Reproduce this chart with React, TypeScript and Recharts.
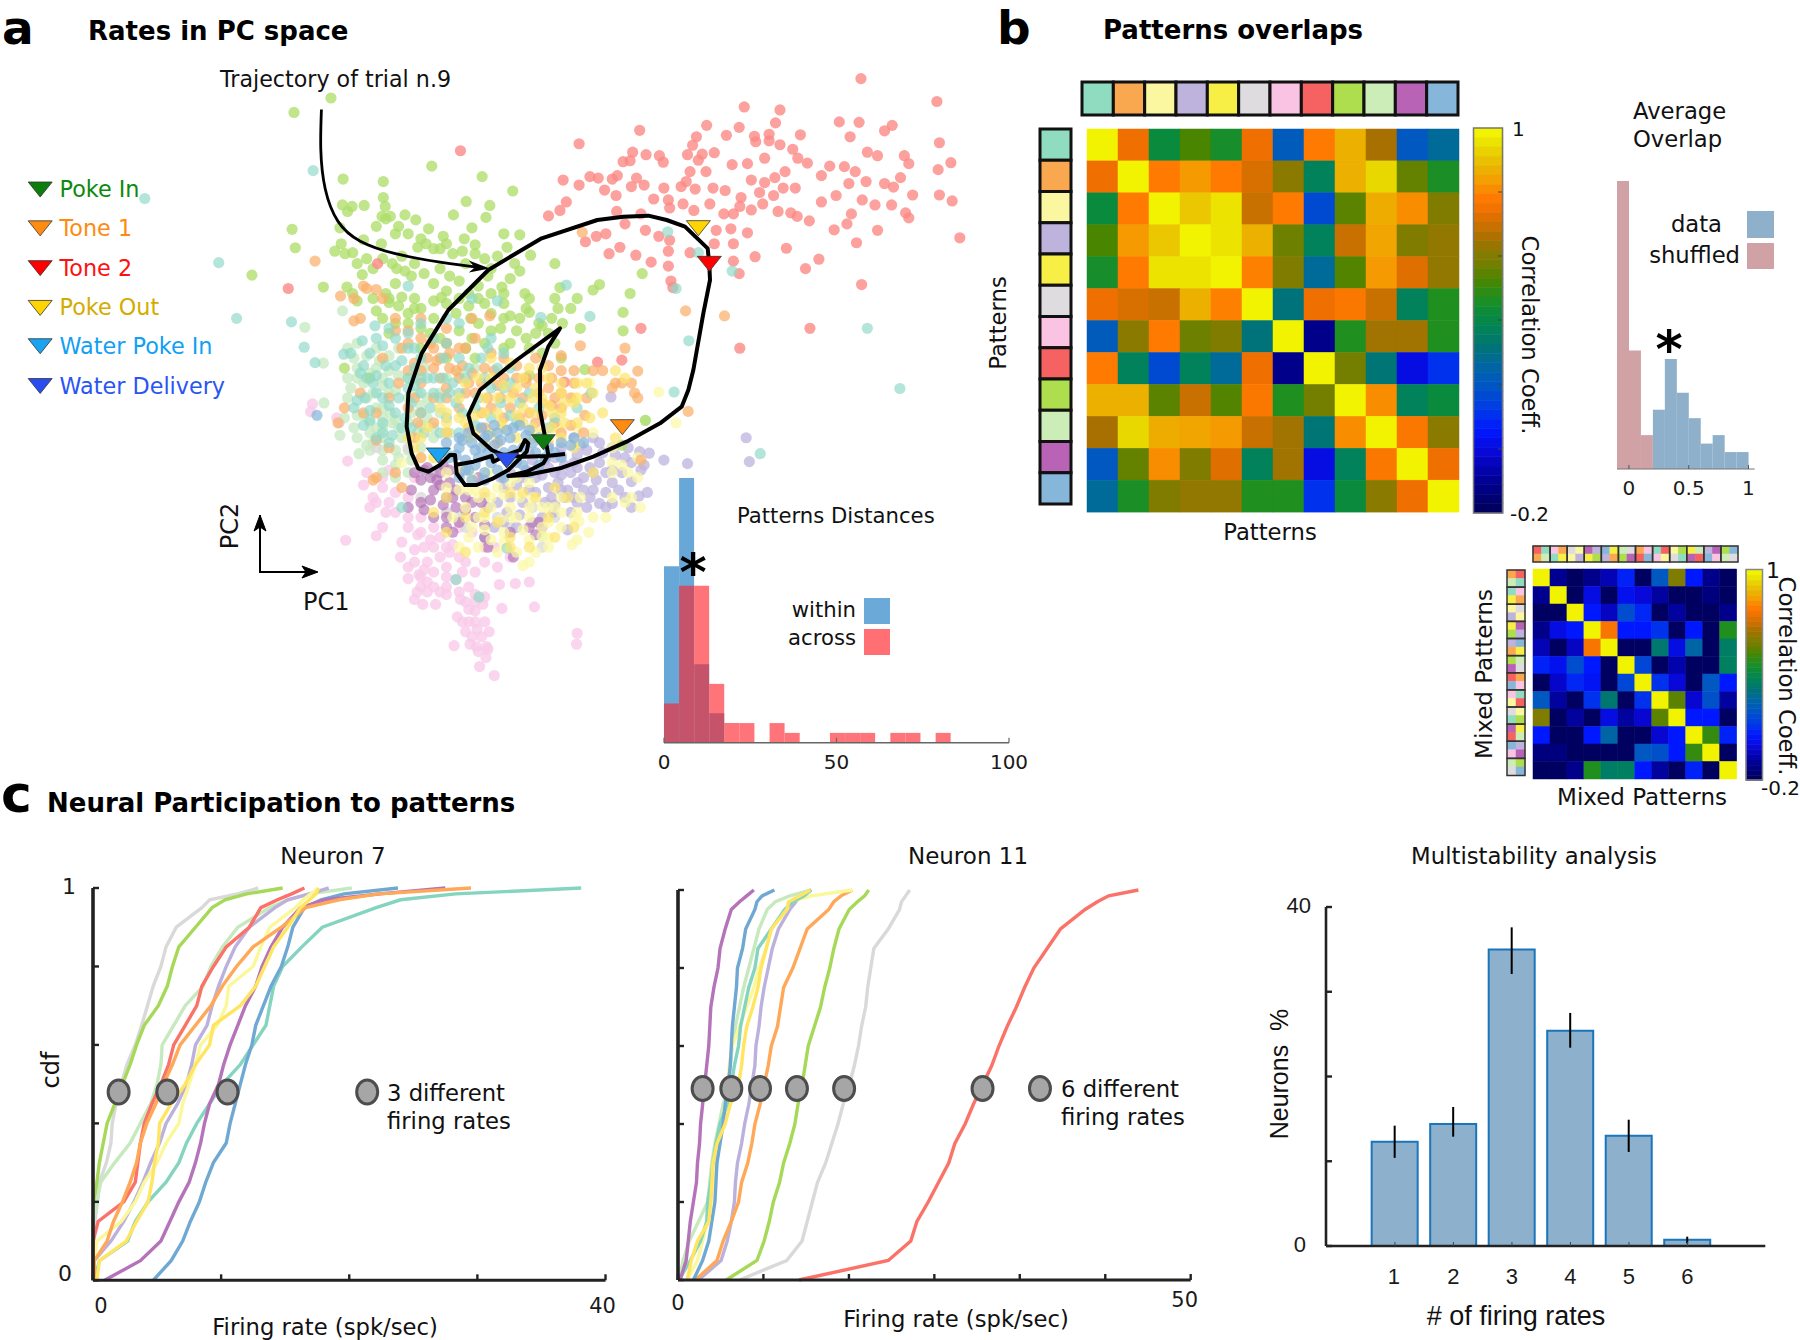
import {
  BarChart,
  Bar,
  ComposedChart,
  ErrorBar,
  Line,
  Scatter,
  ScatterChart,
  XAxis,
  YAxis,
} from 'recharts'

const DEJAVU = '"DejaVu Sans", sans-serif'
const HELV = '"Liberation Sans", sans-serif'

const MINT = '#8fdcc0'
const ORANGE = '#f9a84f'
const LTYELLOW = '#faf7a0'
const LAVENDER = '#bdb3dd'
const YELLOW = '#f7ef45'
const GREY = '#dedcde'
const PINK = '#fac3e3'
const RED = '#f66262'
const GREEN = '#aede4d'
const PALEGREEN = '#ccedb8'
const PURPLE = '#b863b5'
const BLUE = '#86b6da'
const patternColors = [MINT, ORANGE, LTYELLOW, LAVENDER, YELLOW, GREY, PINK, RED, GREEN, PALEGREEN, PURPLE, BLUE]

// PC space dots, units (0..1568 on both axes)
type Pair = [number, number]
const pinkDots: Pair[] = [[905,1273],[904,1295],[712,1298],[775,1358],[762,1322],[752,1340],[747,1300],[763,1300],[737,1295],[767,1270],[748,1265],[735,1250],[760,1250],[717,1240],[745,1228],[787,1223],[838,1220],[663,1215],[683,1215],[650,1205],[722,1205],[700,1195],[735,1180],[654,1190],[640,1163],[657,1155],[680,1150],[715,1165],[745,1195],[783,1175],[808,1173],[830,1170],[628,1120],[650,1105],[590,1077],[542,1086],[670,1130],[665,1100],[690,1080],[730,1130],[710,1095],[605,1030],[585,1000],[600,980],[545,927],[490,812],[487,828],[528,840],[532,850],[580,1020],[640,1060],[660,1040],[680,1060],[700,1030],[740,1070],[760,1100],[720,1060],[575,950],[610,1010],[630,1090],[690,1120],[700,1160],[720,1120],[670,1170],[690,1190],[660,1180],[650,1130],[735,1225],[730,1270],[745,1250],[757,1215],[775,1100],[800,1120],[655,1075],[675,1085],[705,1110],[725,1150],[745,1150],[640,1000],[620,1030],[600,960],[570,975],[610,945],[650,960],[590,1010],[620,990],[640,1040],[660,1070],[600,1060],[680,1100],[700,1100],[660,1160],[680,1180],[700,1180],[720,1190],[730,1210],[745,1210],[760,1200],[725,1250],[740,1280],[755,1280],[750,1310],[765,1305],[640,1140],[670,1190],[665,1145],[700,1140],[760,1130],[780,1140]]
const paleGreenDots: Pair[] = [[537,625],[478,658],[507,730],[508,810],[533,875],[563,912],[600,950],[575,800],[550,780],[590,820],[610,790],[640,850],[670,800],[700,760],[600,880],[620,905],[655,870],[680,880],[730,700],[745,740],[600,760],[590,700],[560,690],[625,700],[670,840],[705,870],[650,760],[612,830],[590,860],[850,1078],[620,960],[1012,845],[580,850],[600,905],[640,905],[625,860],[585,890],[660,815],[640,800],[570,835],[600,840],[690,830],[560,740],[590,740],[610,715],[570,770],[555,860],[580,905],[620,935],[640,950],[660,900],[680,860],[690,790],[720,750],[640,760],[665,740],[620,845],[600,820],[585,790],[545,800],[545,700],[555,720],[575,715],[595,725],[610,745],[625,755],[545,760],[560,760],[580,750],[600,775],[620,785],[540,840],[560,835],[580,870],[600,860],[615,850],[630,880],[645,830],[655,790],[560,880],[575,895],[600,925],[625,920],[645,925],[660,855]]
const greyDots: Pair[] = [[700,1030],[730,1060],[760,1000],[850,1100],[680,950],[720,1040],[590,900],[640,900],[780,1040],[800,1060],[870,1040],[660,1000],[835,1020]]
const lavenderDots: Pair[] = [[1170,880],[1175,928],[1078,932],[1041,925],[1018,911],[1003,908],[985,900],[960,900],[930,880],[958,798],[900,880],[880,900],[1002,997],[990,968],[960,1012],[940,1012],[970,985],[950,950],[925,940],[905,970],[880,985],[860,980],[840,990],[820,1010],[870,950],[900,1000],[930,985],[845,945],[820,960],[790,980],[905,1010],[885,1000],[868,1030],[835,1050],[890,1065],[795,1030],[775,1060],[760,1080],[900,930],[940,930],[980,920],[1005,945],[1010,935],[870,920],[905,915],[960,970],[925,1000],[865,1000],[850,955],[875,970],[895,950],[915,960],[935,965],[855,925],[885,935],[920,905],[945,910],[830,985],[810,975],[855,1010],[890,985],[915,985],[950,990],[835,925],[800,1000],[780,1010],[840,960],[825,945],[860,940],[880,955],[905,940],[930,950],[960,945],[975,950],[980,1000],[950,1020],[920,1020],[895,1030],[870,1015],[850,1040],[815,1035],[790,1050],[810,1060],[880,915],[910,895],[940,890],[965,915],[990,930],[1015,990],[990,1020],[860,895],[830,910],[800,950],[785,960],[765,1020]]
const ltYellowDots: Pair[] = [[923,1070],[908,1048],[897,1095],[880,1060],[850,1078],[820,1065],[790,1070],[760,1040],[730,1020],[780,1110],[840,1110],[830,1130],[820,1137],[870,1020],[905,860],[1033,788],[1060,850],[1004,1020],[990,1000],[960,950],[925,770],[900,800],[850,1020],[800,1020],[770,1000],[740,1060],[720,1100],[750,1100],[815,1000],[750,1000],[875,860],[910,1000],[960,930],[785,1045],[810,1040],[760,1065],[830,1040],[860,1050],[700,980],[735,985],[790,995],[880,1030],[905,1030],[975,935],[1000,920],[780,980],[810,960],[740,960],[700,950],[680,920],[720,945],[750,1040],[790,1090],[860,1080],[880,1000],[835,1000],[860,1100],[810,1110],[770,1085],[735,1080],[710,1040],[660,920],[630,930],[905,890],[930,870],[960,900],[985,950],[980,1010],[1000,960],[905,1085],[930,1040],[960,1000],[950,1040],[850,1060],[830,1085],[800,970],[830,970],[765,950],[745,985],[720,985],[800,1040],[770,1020],[830,1020],[860,1020],[900,1040]]
const mintDots: Pair[] = [[227,399],[491,343],[343,528],[371,640],[457,647],[477,698],[494,729],[539,712],[1047,466],[1095,508],[1148,545],[1060,580],[1080,685],[1360,660],[1411,781],[1192,912],[1057,788],[925,636],[888,573],[848,638],[780,605],[640,575],[588,655],[568,685],[580,710],[600,695],[620,735],[575,760],[572,800],[600,850],[615,875],[590,880],[640,780],[660,830],[680,790],[700,840],[730,760],[750,800],[785,810],[770,680],[720,650],[695,720],[660,720],[640,670],[810,850],[830,790],[690,870],[800,740],[630,1020],[795,1102],[715,1165],[751,1200],[927,790],[860,860],[610,770],[650,740],[670,760],[710,770],[715,810],[760,760],[790,780],[770,840],[745,855],[720,870],[660,790],[620,830],[590,680],[610,660],[570,735],[585,770],[600,800],[640,760],[625,800],[645,810],[675,820],[690,800],[705,790],[725,830],[745,820],[770,780],[800,770],[815,810],[780,740],[755,720],[720,720],[700,690],[680,680],[640,700],[620,680],[590,790],[555,820],[570,855],[600,870],[645,860],[665,870],[700,910],[800,835],[845,820],[870,840],[905,820],[720,790],[660,650],[700,640],[740,600],[550,710],[565,750],[590,755],[605,735],[630,725],[650,700],[560,805],[580,825],[610,815],[635,840],[650,775],[580,845],[610,890],[630,860],[660,760],[680,760],[695,760],[735,740],[765,700],[790,710]]
const greenDots: Pair[] = [[519,197],[461,226],[677,334],[538,360],[756,355],[804,384],[601,365],[601,397],[604,415],[537,412],[552,415],[571,413],[731,405],[768,413],[599,435],[612,435],[635,432],[652,442],[711,432],[762,437],[740,458],[533,458],[458,461],[463,498],[790,470],[815,472],[695,475],[728,480],[620,470],[598,490],[668,490],[680,500],[700,490],[535,490],[525,505],[541,510],[553,508],[570,482],[655,497],[745,492],[795,497],[832,513],[760,520],[807,530],[870,530],[622,540],[635,545],[650,530],[690,540],[730,530],[568,552],[395,553],[507,577],[544,577],[553,590],[610,600],[630,597],[650,600],[692,598],[787,577],[765,555],[823,590],[878,578],[940,572],[930,583],[1007,550],[988,590],[825,620],[870,600],[875,620],[790,610],[800,635],[830,628],[610,608],[660,620],[700,610],[738,640],[750,650],[882,650],[810,665],[840,670],[910,660],[977,628],[977,665],[760,690],[790,700],[830,700],[870,690],[730,700],[700,720],[640,650],[610,670],[917,743],[830,755],[540,740],[580,760],[1012,845],[975,895],[600,640],[660,700],[680,640],[720,600],[760,610],[680,570],[620,570],[750,575],[785,660],[720,665],[690,680],[745,720],[545,425],[590,455],[605,440],[625,455],[640,470],[660,480],[672,460],[690,500],[710,510],[725,505],[745,510],[770,540],[780,515],[800,560],[815,545],[600,520],[615,530],[630,515],[585,540],[560,530],[575,520],[645,555],[665,550],[705,555],[720,565],[735,590],[750,600],[770,590],[790,590],[700,585],[680,605],[650,620],[625,615],[605,590],[585,600],[560,605],[715,630],[735,615],[770,630],[790,640],[815,640],[850,655],[865,640],[895,620],[830,600],[845,650],[860,670],[740,680],[700,690],[675,670],[660,660],[640,630],[620,650],[590,625],[770,665],[800,690],[825,680],[850,710],[880,720],[905,600]]
const redDots: Pair[] = [[1350,158],[1167,215],[1223,221],[1469,204],[1316,245],[1347,246],[1399,252],[1387,263],[1108,252],[1159,256],[1216,247],[1003,262],[1183,274],[1206,270],[1139,272],[1255,271],[1333,275],[1092,275],[908,289],[722,303],[1473,287],[1185,285],[1206,283],[1223,291],[1243,300],[1086,292],[992,306],[1013,311],[1034,313],[1078,311],[1101,310],[1120,307],[1360,306],[1376,313],[1418,313],[1425,329],[1491,327],[1471,341],[1251,318],[1266,328],[1040,326],[977,325],[988,323],[1148,331],[1172,329],[1199,318],[1301,334],[1324,335],[1341,345],[1231,345],[1095,322],[1082,345],[1107,345],[925,355],[883,362],[938,358],[968,353],[960,360],[998,358],[1288,353],[1412,357],[1215,357],[1199,367],[1178,362],[1358,365],[1331,369],[1387,369],[1401,376],[908,372],[1068,375],[1090,380],[1118,378],[1076,365],[1041,378],[1010,372],[990,375],[948,382],[966,393],[1025,400],[1048,402],[1071,410],[1137,383],[1162,397],[1191,387],[1213,393],[1228,378],[1247,378],[1311,393],[1431,392],[1473,392],[1493,404],[1288,406],[1352,402],[1372,412],[1398,412],[1420,428],[1425,438],[1335,430],[1269,444],[1250,435],[1220,425],[1240,428],[1196,410],[1178,422],[1160,415],[1135,430],[1113,410],[1150,430],[1088,423],[888,406],[878,423],[860,434],[967,425],[1005,430],[1050,418],[1328,450],[1308,462],[1376,463],[1505,478],[1123,463],[1146,460],[1172,468],[1050,483],[1033,475],[1012,463],[980,450],[950,470],[935,475],[918,486],[1150,490],[1120,490],[1343,488],[1233,499],[972,497],[955,510],[997,513],[1021,527],[1048,505],[1048,535],[1082,508],[1184,516],[1284,521],[1263,540],[1150,525],[1159,550],[1351,572],[1052,565],[1055,578],[452,580],[592,530],[1005,660],[1270,660],[1160,700],[937,728],[885,768],[975,724]]
const orangeDots: Pair[] = [[494,525],[534,595],[570,575],[590,582],[555,645],[620,640],[640,665],[600,720],[570,830],[530,850],[590,885],[585,965],[620,950],[660,640],[700,660],[730,700],[740,640],[768,635],[680,740],[660,770],[700,780],[720,820],[760,860],[800,820],[840,850],[880,820],[910,695],[917,835],[930,745],[945,745],[980,700],[965,770],[1000,746],[1075,625],[1136,635],[1079,827],[995,790],[975,770],[913,467],[880,715],[820,800],[860,780],[880,870],[1005,925],[780,775],[650,800],[680,700],[705,740],[670,720],[690,760],[720,760],[745,790],[765,800],[830,830],[850,810],[790,760],[650,730],[630,700],[575,580],[600,600],[555,600],[565,640],[620,665],[640,690],[660,680],[675,690],[700,690],[720,700],[745,680],[770,710],[790,720],[810,735],[825,760],[845,760],[865,760],[880,745],[900,770],[920,800],[880,790],[860,735],[840,720],[760,740],[740,750],[725,735],[705,710],[685,725],[660,745],[640,745],[625,770],[610,800],[590,830],[565,790],[540,820],[640,820],[655,850],[680,850],[700,800],[730,790],[755,770],[785,800],[805,790],[825,770],[850,835],[870,850],[895,855],[915,870],[780,890],[700,870],[650,880],[610,900],[590,960],[630,980],[660,920],[960,780],[990,770],[1000,800],[870,800],[900,745],[690,720],[715,745],[735,770],[770,820],[790,840],[815,840],[845,790],[865,815],[895,800],[810,760],[775,745],[755,830],[735,860],[680,800],[660,830]]
const yellowDots: Pair[] = [[790,775],[760,800],[730,850],[700,830],[820,820],[850,800],[880,830],[850,870],[920,770],[965,745],[820,760],[790,860],[760,890],[680,920],[650,900],[800,730],[730,770],[660,880],[770,720],[850,740],[900,810],[945,830],[905,800],[840,1000],[780,1050],[730,1110],[820,990],[800,990],[870,980],[760,990],[700,1000],[965,880],[930,950],[810,780],[835,800],[865,830],[780,830],[745,835],[840,780],[880,790],[770,760],[800,800],[830,740],[860,760],[880,770],[905,850],[925,840],[885,850],[860,885],[835,860],[810,880],[780,800],[750,760],[720,800],[690,820],[670,860],[640,880],[700,870],[735,880],[820,850],[930,790],[980,760],[890,1000],[860,1040],[800,1080],[760,1030],[730,1040],[700,1070],[680,1030],[830,1100],[800,1100],[870,1080],[900,1060],[760,830],[785,850],[810,835],[835,830],[860,815],[885,810],[905,770],[770,870],[745,870],[835,880],[880,880],[900,900],[865,860],[720,840],[700,850]]
const purpleDots: Pair[] = [[665,945],[675,960],[690,950],[705,970],[680,985],[645,985],[660,1010],[700,1000],[715,1020],[700,1040],[740,1010],[710,1070],[760,1080],[805,1120],[845,1050],[830,1060],[730,1000],[755,1010],[750,960],[670,940],[640,1020],[685,965],[695,935],[715,985],[660,965],[650,950],[690,975],[705,945],[720,950],[675,1005],[695,1015],[720,1050],[710,1000],[665,1025],[730,1025],[745,1040],[760,1055],[800,1070],[850,1060],[840,1075],[765,1100],[700,1060],[680,1040]]
const blueDots: Pair[] = [[497,835],[720,900],[740,890],[760,880],[780,870],[800,880],[820,900],[750,920],[770,930],[730,925],[790,910],[840,910],[860,900],[880,890],[735,945],[760,950],[820,935],[700,890],[780,945],[755,900],[775,895],[805,905],[745,905],[725,885],[765,910],[835,890],[715,915],[730,945],[705,920],[745,935],[765,875],[785,885],[805,860],[825,875],[845,880],[870,910],[855,920],[810,930],[795,925],[775,920],[760,965],[740,965],[720,960],[790,960],[845,935],[880,920],[895,895],[900,880],[915,890],[830,950],[720,880],[735,870],[755,860],[775,855],[795,865],[815,855],[830,865]]

const dotSeries: [Pair[], string, number][] = [
  [pinkDots, '#f9cbe8', 0.8],
  [paleGreenDots, '#c6e9c0', 0.75],
  [greyDots, '#d9d9d9', 0.75],
  [lavenderDots, '#bdb3dd', 0.75],
  [purpleDots, '#b16fb4', 0.65],
  [ltYellowDots, '#fbf8a6', 0.72],
  [greenDots, '#aede6a', 0.78],
  [redDots, '#fb8a84', 0.8],
  [orangeDots, '#f9b06a', 0.72],
  [mintDots, '#8fd8c8', 0.68],
  [yellowDots, '#fce56a', 0.68],
  [blueDots, '#86b6da', 0.72],
]

const tailPath: Pair[] = [[504,220],[503,300],[510,380],[530,445],[565,485],[620,510],[690,527],[755,538]]

// single trial trajectory, units 0..1200 x 0..1020 over the centre of the cloud
const trialPath: Pair[] = [[615,822],[560,828],[490,830],[430,825],[395,810],[340,760],[325,705],[360,630],[470,540],[600,445],[565,500],[540,570],[540,690],[555,770],[565,825],[550,850],[500,875],[445,888],[500,885],[600,865],[700,830],[800,785],[900,730],[965,680],[985,630],[1000,570],[1030,400],[1050,300],[1048,255],[1043,205],[975,140],[920,120],[865,107],[790,110],[712,120],[545,175],[460,225],[385,270],[265,390],[185,520],[145,640],[140,740],[155,820],[175,865],[205,875],[240,855],[270,825],[285,825],[290,880],[315,915],[350,915],[400,895],[445,870],[500,815],[505,790],[495,780],[480,810],[440,825],[400,845],[395,828],[340,845],[285,855]]

const eventNames = ['Poke In', 'Tone 1', 'Tone 2', 'Poke Out', 'Water Poke In', 'Water Delivery']
const eventFill = ['#0d7d0d', '#ff8c10', '#ff0000', '#ffd400', '#1aa3f0', '#2a4df0']
const eventText = ['#0d8a0d', '#ff8a10', '#ff1010', '#d4ac00', '#10a0f5', '#2a55f5']
const eventOnTrial: Pair[] = [[550,785],[787,740],[1048,250],[1015,143],[235,825],[440,840]]
const eventLegendY = [380, 458, 538, 618, 695, 775]

// distance histogram
const distBins = [2.19,6.56,10.94,15.31,19.69,24.06,28.44,32.81,37.19,41.56,45.94,50.31,54.69,59.06,63.44,67.81,72.19,76.56,80.94,85.31]
const distWithin = [18,27,8,3,0,0,0,0,0,0,0,0,0,0,0,0,0,0,0,0]
const distAcross = [4,16,16,6,2,2,0,2,1,0,0,1,1,1,0,1,1,0,1,0]

// average overlap histogram
const overlapBins = [-0.05,0.05,0.15,0.25,0.35,0.45,0.55,0.65,0.75,0.85,0.95]
const overlapShuffled = [34,14,4,0,0,0,0,0,0,0,0]
const overlapData = [0,0,0,7,13,9,6,3,4,2,2]

const overlaps = [
  [1,.75,.42,.53,.45,.75,.21,.79,.88,.66,.2,.27],
  [.75,1,.79,.84,.79,.72,.62,.37,.88,.95,.56,.46],
  [.42,.79,1,.92,.97,.7,.79,.16,.55,.87,.82,.6],
  [.53,.84,.92,1,.97,.88,.57,.37,.7,.86,.6,.63],
  [.45,.79,.97,.97,1,.8,.6,.27,.54,.84,.73,.63],
  [.75,.72,.7,.88,.8,1,.31,.75,.78,.7,.37,.47],
  [.21,.62,.79,.57,.6,.31,1,-.13,.47,.65,.65,.47],
  [.79,.37,.16,.37,.27,.75,-.13,1,.58,.32,0,.1],
  [.88,.88,.55,.7,.54,.78,.47,.58,1,.82,.37,.42],
  [.66,.95,.87,.86,.84,.7,.65,.32,.82,1,.78,.62],
  [.2,.56,.82,.6,.73,.37,.65,0,.37,.78,1,.75],
  [.27,.46,.6,.63,.63,.47,.47,.1,.42,.62,.75,1],
]
const mixedOverlaps = [
  [1,-.12,-.2,-.13,-.07,.07,-.2,.2,.6,.05,-.13,-.2],
  [-.12,1,-.2,0,-.2,.02,-.02,-.1,-.2,-.2,-.15,-.2],
  [-.2,-.2,1,.05,-.05,.17,.08,-.2,-.1,-.2,-.2,-.13],
  [-.13,0,.05,1,.77,.05,.05,.1,-.2,.05,-.2,.47],
  [-.07,-.2,-.05,.77,1,-.2,-.2,.33,0,.25,-.2,.35],
  [.07,.02,.17,.05,-.2,1,.15,-.2,-.08,-.2,-.2,.36],
  [-.2,-.04,.08,.03,-.2,.15,1,.1,-.02,-.2,.2,.05],
  [.2,-.1,-.2,.1,.33,-.2,.1,1,.55,-.03,.18,-.1],
  [.6,-.2,-.1,-.2,0,-.1,-.03,.55,1,.05,.05,-.2],
  [.05,-.2,-.2,.05,.25,-.2,-.2,-.03,.05,1,.5,.07],
  [-.15,-.15,-.2,-.2,-.2,-.2,.2,.18,.05,.5,1,-.2],
  [-.2,-.2,-.13,.47,.35,.36,.05,-.1,-.2,.07,-.2,1],
]
const colorbarLevels = [1,.97,.94,.91,.88,.85,.82,.79,.76,.73,.7,.67,.64,.61,.58,.55,.52,.49,.46,.43,.4,.37,.34,.31,.28,.25,.22,.19,.16,.13,.1,.07,.04,.01,-.02,-.05,-.08,-.11,-.14,-.17,-.2]

// top strip cells of the mixed matrix [tl, tr, bl, br]
const mixedTop = [
  [RED,MINT,ORANGE,PALEGREEN],[PINK,ORANGE,MINT,YELLOW],[GREY,LTYELLOW,LTYELLOW,LAVENDER],[PURPLE,LAVENDER,YELLOW,GREEN],
  [BLUE,YELLOW,LAVENDER,ORANGE],[PALEGREEN,GREY,GREEN,PURPLE],[ORANGE,PINK,RED,BLUE],[MINT,RED,PINK,LTYELLOW],
  [LTYELLOW,GREEN,GREY,MINT],[YELLOW,PALEGREEN,PURPLE,RED],[LAVENDER,PURPLE,BLUE,PINK],[GREEN,BLUE,PALEGREEN,GREY],
]
const mixedLeft = [
  [ORANGE,RED,PALEGREEN,MINT],[MINT,PINK,YELLOW,ORANGE],[LTYELLOW,GREY,LAVENDER,LTYELLOW],[YELLOW,PURPLE,GREEN,LAVENDER],
  [LAVENDER,BLUE,ORANGE,YELLOW],[GREEN,PALEGREEN,PURPLE,GREY],[RED,ORANGE,BLUE,PINK],[PINK,MINT,LTYELLOW,RED],
  [GREY,LTYELLOW,MINT,GREEN],[PURPLE,YELLOW,RED,PALEGREEN],[BLUE,LAVENDER,PINK,PURPLE],[PALEGREEN,GREEN,GREY,BLUE],
]

// cdf curves: firing rate (spk/sec) reached at each cdf level
const cdfLevels = [0,.05,.1,.15,.2,.25,.3,.35,.4,.45,.5,.55,.6,.65,.7,.75,.8,.85,.9,.95,.97,.985,1]
const neuron7: [string, number[]][] = [
  ['#d9d9d9', [.1,.1,.1,.15,.35,.5,1.05,1.4,1.5,1.8,2.2,2.65,3.3,3.8,4.25,4.7,5.3,5.7,6.5,8.5,9.1,11.3,12.9]],
  ['#a5d957', [0,0,0,0,.1,.3,.5,.8,1.1,1.7,2.3,2.9,3.4,4,5.1,5.8,6.2,6.7,8,9.3,10.3,12,14.8]],
  ['#c6e9bd', [0,0,0,0,.3,.6,1.7,2.9,3.7,4.5,5,5.3,5.4,6.3,7.2,8.6,9.2,10.1,11.3,13.8,15.2,16.9,20.2]],
  ['#bcb1dc', [.1,.1,1.4,2.4,3.2,3.9,4.5,5.2,5.7,6.6,7.3,7.7,8,8.9,9.3,9.8,10.4,11.1,12.2,14.2,15.2,16.9,18.4]],
  ['#fbf79b', [.1,.1,.3,2.2,3.3,4,5,5.7,6.7,7,7.5,8,8.4,9.7,10.4,10.6,12.5,13.1,13.8,15.8,16.4,17,17.6]],
  ['#84d4c0', [.1,.5,2.7,3.3,4.3,5.7,6.7,7.3,8.1,9.1,10.1,11.5,12.5,13.5,13.8,14.1,14.8,16.3,17.9,22.1,24,28.3,38.1]],
  ['#6fa9d3', [4.7,6.1,7,7.6,8.3,8.8,9.4,10.4,10.7,11.1,11.5,11.9,12.4,12.7,13.3,13.9,14.7,15.2,15.6,16.5,17.8,19.6,23.8]],
  ['#b573b9', [.9,3.7,5.3,6,6.7,7.5,8,8.4,8.7,9.1,9.8,10.2,10.7,11.3,11.9,12.7,13.2,13.9,14.8,16.2,18.1,22.4,27.5]],
  ['#fa7268', [0,0,0,.4,2.4,3.3,3.5,3.7,4,4.6,5.3,5.9,6.3,7.2,8.1,8.5,9.4,10.4,12.2,13.1,14.4,15.5,16.5]],
  ['#ffa857', [.1,.1,1.1,1.6,2.3,2.9,3.4,3.7,4.2,4.9,5.5,6.2,6.8,8,9.2,10.1,11.2,12.5,14.7,16.6,19.2,22.3,29.5]],
  ['#ffe560', [.3,.5,2.6,3.4,4.3,4.6,4.8,5.1,5.2,6.1,7.2,8,9.1,9.4,11.5,12.7,13.4,14.1,15.2,16.2,16.9,17.4,17.6]],
]
const neuron11: [string, number[]][] = [
  ['#d9d9d9', [6,10.6,12.1,12.6,13.1,13.6,14.4,15,15.6,16.1,16.7,17.2,17.6,17.9,18.3,18.5,18.8,19.1,20.5,21.6,21.8,22.2,22.6]],
  ['#a5d957', [4.7,7.7,8.4,8.9,9.3,9.9,10.3,10.9,11.4,11.7,12.1,12.4,12.7,13.3,13.9,14.3,14.8,15.2,15.7,16.7,17.5,18.2,18.6]],
  ['#fa7268', [11.8,20.5,22.7,23.3,24.4,25.4,26.4,27,28,28.8,29.7,30.6,31.3,32.1,33,33.8,34.7,36,37.3,39.7,40.9,42,44.9]],
  ['#bcb1dc', [2,4.2,4.8,5.2,5.5,5.6,5.8,6.2,6.5,6.9,7.2,7.5,7.6,7.9,8.1,8.4,8.8,9.2,9.8,10.9,11.5,12,13]],
  ['#ffa857', [1.7,3.8,4.4,5.2,5.9,6.2,6.8,7.2,7.5,8,8.4,8.8,9.1,9.7,10,10.3,11.2,11.9,12.6,14.7,15.2,15.9,17]],
  ['#c6e9bd', [.1,.5,1.1,2,2.9,3.1,3.3,3.6,4,4.4,4.9,5.1,5.3,5.6,6,6.4,6.9,7.4,7.9,8.7,9.5,10.9,13]],
  ['#fbf79b', [.9,1.9,2.4,2.9,3.2,3.4,3.6,4,4.3,4.6,4.9,5,5.3,6,6.7,7.4,7.9,8.6,9.1,10.6,11,13,17]],
  ['#84d4c0', [.1,1.2,2.2,2.8,2.9,3.2,3.4,3.7,4.1,4.8,5.2,5.5,5.9,6.1,6.5,6.9,7.5,7.8,9.1,10.4,11.2,12.3,13]],
  ['#6fa9d3', [1.5,2.4,3,3.3,3.6,3.7,3.8,4.1,4.4,4.6,4.9,5.1,5.2,5.3,5.5,5.7,5.8,6.3,6.6,7.5,7.7,8.2,9.4]],
  ['#ffe560', [.9,1.3,1.9,3,3.2,3.3,3.4,3.8,4.6,5.1,5.9,6.2,6.4,6.7,7.3,7.8,8.1,8.6,9.1,10.6,10.8,11.9,12.9]],
  ['#b573b9', [.2,.8,1,1.2,1.5,1.8,1.9,2.1,2.2,2.4,2.6,2.8,3,3.1,3.2,3.5,3.9,4.1,4.6,5.2,6,6.7,7.4]],
]
const neuron7Rates = [2, 5.8, 10.5, 21.4]
const neuron11Rates = [2.4, 5.2, 8, 11.6, 16.2, 29.7, 35.3]

// multistability bars
const firingRateCounts = [1, 2, 3, 4, 5, 6]
const neuronPercent = [12.3, 14.4, 35, 25.4, 13, 0.75]
const errLow = [1.9, 1.5, 2.9, 2, 1.9, 0.45]
const errHigh = [1.9, 2, 2.6, 2.1, 1.9, 0.35]

const colorStops: [number, string][] = [
  [-.2,'#000060'],[-.12,'#000090'],[-.02,'#0808d8'],[.05,'#0018ff'],[.13,'#0040e0'],[.2,'#0058c0'],[.26,'#0068a0'],[.3,'#00707f'],
  [.36,'#008060'],[.42,'#0a8a3c'],[.47,'#1f8f1f'],[.53,'#4a8500'],[.57,'#6e8000'],[.62,'#8a7a00'],[.66,'#a87000'],[.7,'#c87000'],
  [.75,'#ef7000'],[.79,'#ff7a00'],[.84,'#f59a00'],[.88,'#ecb000'],[.95,'#e8d800'],[1,'#f2f300'],
]
function heatColor(v: number) {
  let i = 0
  while (i < colorStops.length - 2 && v > colorStops[i + 1][0]) i++
  const [a, ca] = colorStops[i]
  const [b, cb] = colorStops[i + 1]
  const t = Math.max(0, Math.min(1, (v - a) / (b - a)))
  const ch = (c: string, o: number) => parseInt(c.slice(o, o + 2), 16)
  const mix = (o: number) => Math.round(ch(ca, o) + (ch(cb, o) - ch(ca, o)) * t)
  return `rgb(${mix(1)},${mix(3)},${mix(5)})`
}

const PAD = 60

function Frame({ l, t, children }: { l: number; t: number; children: any }) {
  return <div style={{ position: 'absolute', left: l - PAD, top: t - PAD }}>{children}</div>
}

function chartBox(l: number, t: number, r: number, b: number, hideY = false) {
  return { width: r - l + 2 * PAD, height: b - t + 2 * PAD, margin: { top: PAD, right: PAD, bottom: 0, left: hideY ? PAD : 0 } }
}

// inward ticks, labels placed by hand because the source figure offsets them
function xTick(len: number, color: string, sw: number, labels: Record<string, [string, number, number]>, font = DEJAVU, size = 20) {
  return (p: any) => {
    const lab = labels[String(p.payload.value)]
    return (
      <g>
        <line x1={p.x} x2={p.x} y1={p.y} y2={p.y - len} stroke={color} strokeWidth={sw} />
        {lab && (
          <text x={p.x + lab[1]} y={p.y + lab[2]} textAnchor="middle" fontFamily={font} fontSize={size} fill="#1a1a1a">
            {lab[0]}
          </text>
        )}
      </g>
    )
  }
}

function yTick(len: number, color: string, sw: number, labels: Record<string, [string, number, number]>, font = DEJAVU, size = 22) {
  return (p: any) => {
    const lab = labels[String(p.payload.value)]
    return (
      <g>
        <line x1={p.x} x2={p.x + len} y1={p.y} y2={p.y} stroke={color} strokeWidth={sw} />
        {lab && (
          <text x={p.x + lab[1]} y={p.y + lab[2]} textAnchor="end" fontFamily={font} fontSize={size} fill="#1a1a1a">
            {lab[0]}
          </text>
        )}
      </g>
    )
  }
}

type Cell = { col: number; row: number; fill: string }

function CellGrid({ l, t, r, b, cols, rows, cells, stroke, sw = 0 }: { l: number; t: number; r: number; b: number; cols: number; rows: number; cells: Cell[]; stroke?: string; sw?: number }) {
  const w = (r - l) / cols
  const h = (b - t) / rows
  const data = cells.map((c) => ({ x: c.col + 0.5, y: c.row + 0.5, fill: c.fill }))
  return (
    <div style={{ position: 'absolute', left: l - 4, top: t - 4 }}>
      <ScatterChart width={r - l + 8} height={b - t + 8} margin={{ top: 4, right: 4, bottom: 4, left: 4 }}>
        <XAxis hide type="number" dataKey="x" domain={[0, cols]} />
        <YAxis hide type="number" dataKey="y" domain={[0, rows]} reversed />
        <Scatter
          data={data}
          isAnimationActive={false}
          shape={(p: any) => (
            <rect x={p.cx - w / 2} y={p.cy - h / 2} width={w} height={h} fill={p.payload.fill} stroke={stroke ?? p.payload.fill} strokeWidth={stroke ? sw : 0.5} />
          )}
        />
      </ScatterChart>
    </div>
  )
}

const matrixCells = (m: number[][]): Cell[] => m.flatMap((row, i) => row.map((v, j) => ({ col: j, row: i, fill: heatColor(v) })))
const colorbarCells = colorbarLevels.map((v, i) => ({ col: 0, row: i, fill: heatColor(v) }))
const topStrip = patternColors.map((fill, i) => ({ col: i, row: 0, fill }))
const leftStrip = patternColors.map((fill, i) => ({ col: 0, row: i, fill }))
const outlineRow = patternColors.map((_, i) => ({ col: i, row: 0, fill: 'none' }))
const outlineCol = patternColors.map((_, i) => ({ col: 0, row: i, fill: 'none' }))
const mixedTopCells = mixedTop.flatMap((q, i) => q.map((fill, k) => ({ col: i * 2 + (k % 2), row: k >> 1, fill })))
const mixedLeftCells = mixedLeft.flatMap((q, i) => q.map((fill, k) => ({ col: k % 2, row: i * 2 + (k >> 1), fill })))

const toXY = (pairs: Pair[]) => pairs.map(([x, y]) => ({ x, y }))
const noMark = () => <g />

function PcScatter() {
  const legendData = eventLegendY.map((y, i) => ({ x: 63, y, fill: eventFill[i] }))
  return (
    <div style={{ position: 'absolute', left: 0, top: 0 }}>
      <ScatterChart width={1000} height={780} margin={{ top: 0, right: 0, bottom: 0, left: 0 }}>
        <XAxis hide type="number" dataKey="x" domain={[0, 1568]} />
        <YAxis hide type="number" dataKey="y" domain={[0, 1568]} reversed />
        {dotSeries.map(([pts, fill, alpha], i) => (
          <Scatter
            key={i}
            data={toXY(pts)}
            isAnimationActive={false}
            shape={(p: any) => <circle cx={p.cx} cy={p.cy} r={5.6} fill={fill} fillOpacity={alpha} />}
          />
        ))}
        <Scatter data={toXY(tailPath)} isAnimationActive={false} shape={noMark} lineJointType="natural" line={{ stroke: '#000', strokeWidth: 2.8, fill: 'none' }} />
        <Scatter
          data={[{ x: 768, y: 540 }]}
          isAnimationActive={false}
          shape={(p: any) => <polygon points={`${p.cx},${p.cy} ${p.cx - 21},${p.cy - 8} ${p.cx - 15},${p.cy - 1} ${p.cx - 21},${p.cy + 4}`} fill="#000" />}
        />
        <Scatter
          data={legendData}
          isAnimationActive={false}
          shape={(p: any) => (
            <polygon points={`${p.cx - 12},${p.cy - 7} ${p.cx + 12},${p.cy - 7} ${p.cx},${p.cy + 8}`} fill={p.payload.fill} stroke="#333" strokeWidth={0.8} />
          )}
        />
      </ScatterChart>
      <div style={{ position: 'absolute', left: 360, top: 180 }}>
        <ScatterChart width={400} height={340} margin={{ top: 0, right: 0, bottom: 0, left: 0 }}>
          <XAxis hide type="number" dataKey="x" domain={[0, 1200]} />
          <YAxis hide type="number" dataKey="y" domain={[0, 1020]} reversed />
          <Scatter
            data={toXY(trialPath)}
            isAnimationActive={false}
            shape={noMark}
            line={{ stroke: '#000', strokeWidth: 4, fill: 'none', strokeLinejoin: 'round' }}
          />
          <Scatter
            data={eventOnTrial.map(([x, y], i) => ({ x, y, fill: eventFill[i] }))}
            isAnimationActive={false}
            shape={(p: any) => (
              <polygon points={`${p.cx - 12},${p.cy - 7} ${p.cx + 12},${p.cy - 7} ${p.cx},${p.cy + 8}`} fill={p.payload.fill} stroke="#333" strokeWidth={0.8} />
            )}
          />
        </ScatterChart>
      </div>
    </div>
  )
}

function DistanceHist() {
  const data = distBins.map((x, i) => ({ x, within: distWithin[i], across: distAcross[i] }))
  const [l, t, r, b] = [663.7, 478, 1008.7, 742.7]
  return (
    <Frame l={l} t={t}>
      <BarChart {...chartBox(l, t, r, b, true)} data={data} barCategoryGap={0} barGap="-100%">
        <XAxis
          type="number"
          dataKey="x"
          domain={[0, 100]}
          ticks={[0, 50, 100]}
          height={PAD}
          tickLine={false}
          tickSize={0}
          tickMargin={0}
          axisLine={{ stroke: '#666', strokeWidth: 1.4 }}
          tick={xTick(5, '#666', 1.2, { 0: ['0', 0, 26], 50: ['50', 0, 26], 100: ['100', 0, 26] })}
        />
        <YAxis hide type="number" domain={[0, 27]} />
        <Bar dataKey="within" fill="#67a8d8" isAnimationActive={false} />
        <Bar dataKey="across" fill="#ff1e26" fillOpacity={0.62} isAnimationActive={false} />
      </BarChart>
    </Frame>
  )
}

function OverlapHist() {
  const data = overlapBins.map((x, i) => ({ x, shuffled: overlapShuffled[i], data: overlapData[i] }))
  const [l, t, r, b] = [1617.3, 181, 1755, 469]
  return (
    <Frame l={l} t={t}>
      <BarChart {...chartBox(l, t, r, b, true)} data={data} barCategoryGap={0} barGap="-100%">
        <XAxis
          type="number"
          dataKey="x"
          domain={[-0.1, 1.052]}
          ticks={[0, 0.5, 1]}
          height={PAD}
          tickLine={false}
          tickSize={0}
          tickMargin={0}
          axisLine={{ stroke: '#777', strokeWidth: 1.2 }}
          tick={xTick(4, '#555', 1, { 0: ['0', 0, 26], 0.5: ['0.5', 0, 26], 1: ['1', 0, 26] })}
        />
        <YAxis hide type="number" domain={[0, 34]} />
        <Bar dataKey="shuffled" fill="#d0a2a5" isAnimationActive={false} />
        <Bar dataKey="data" fill="#8fb0cb" isAnimationActive={false} />
      </BarChart>
    </Frame>
  )
}

function CdfPanel({ box, xMax, xTicks, series, rates, cdf, xLabels, yLabels }: any) {
  const [l, t, r, b] = box
  return (
    <Frame l={l} t={t}>
      <ComposedChart {...chartBox(l, t, r, b)}>
        <XAxis
          type="number"
          dataKey="x"
          domain={[0, xMax]}
          ticks={xTicks}
          height={PAD}
          tickLine={false}
          tickSize={0}
          tickMargin={0}
          axisLine={{ stroke: '#222', strokeWidth: 3 }}
          tick={xTick(6, '#222', 2.4, xLabels, DEJAVU, 21)}
        />
        <YAxis
          type="number"
          dataKey="y"
          domain={[0, 1]}
          ticks={[0, 0.2, 0.4, 0.6, 0.8, 1]}
          width={PAD}
          tickLine={false}
          tickSize={0}
          tickMargin={0}
          axisLine={{ stroke: '#222', strokeWidth: 3.6 }}
          tick={yTick(6, '#222', 2.4, yLabels)}
        />
        {series.map(([color, rateList]: [string, number[]], i: number) => (
          <Line
            key={i}
            data={rateList.map((x, k) => ({ x, y: cdfLevels[k] }))}
            dataKey="y"
            stroke={color}
            strokeWidth={3.4}
            dot={false}
            isAnimationActive={false}
          />
        ))}
        <Scatter
          data={rates.map((x: number) => ({ x, y: cdf }))}
          isAnimationActive={false}
          shape={(p: any) => <ellipse cx={p.cx} cy={p.cy} rx={10.5} ry={12} fill="#a6a6a6" stroke="#4d4d4d" strokeWidth={3} />}
        />
      </ComposedChart>
    </Frame>
  )
}

function MultistabilityBars() {
  const data = firingRateCounts.map((x, i) => ({ x, v: neuronPercent[i], err: [errLow[i], errHigh[i]] }))
  const [l, t, r, b] = [1325.7, 906.7, 1765, 1245.7]
  return (
    <Frame l={l} t={t}>
      <BarChart {...chartBox(l, t, r, b)} data={data}>
        <XAxis
          type="number"
          dataKey="x"
          domain={[-0.178, 7.33]}
          ticks={firingRateCounts}
          height={PAD}
          tickLine={false}
          tickSize={0}
          tickMargin={0}
          axisLine={{ stroke: '#222', strokeWidth: 2.6 }}
          tick={xTick(4, '#444', 1, { 1: ['1', -1, 38], 2: ['2', 0, 38], 3: ['3', 0, 38], 4: ['4', 0, 38], 5: ['5', 0, 38], 6: ['6', 0, 38] }, HELV, 22)}
        />
        <YAxis
          type="number"
          domain={[0, 40]}
          ticks={[0, 10, 20, 30, 40]}
          width={PAD}
          tickLine={false}
          tickSize={0}
          tickMargin={0}
          axisLine={{ stroke: '#222', strokeWidth: 2.6 }}
          tick={yTick(6, '#222', 2.4, { 0: ['0', -20, 6], 40: ['40', -15, 6] }, HELV, 22)}
        />
        <Bar dataKey="v" barSize={46} fill="#8db1cd" stroke="#1a75bb" strokeWidth={2} isAnimationActive={false}>
          <ErrorBar dataKey="err" direction="y" width={0} stroke="#000" strokeWidth={2} />
        </Bar>
      </BarChart>
    </Frame>
  )
}

function T({ x, y, s = 22.7, a = 'start', f = DEJAVU, w, c = '#111', r, children }: any) {
  return (
    <text x={x} y={y} fontSize={s} textAnchor={a} fontFamily={f} fontWeight={w} fill={c} style={{ whiteSpace: 'pre' }} transform={r ? `rotate(${r} ${x} ${y})` : undefined}>
      {children}
    </text>
  )
}

function Annotations() {
  return (
    <svg width={1800} height={1340} style={{ position: 'absolute', left: 0, top: 0, pointerEvents: 'none' }}>
      <T x={2} y={44} s={47} w="bold" c="#000">a</T>
      <T x={997} y={44} s={47} w="bold" c="#000">b</T>
      <T x={1} y={812} s={52} w="bold" c="#000">c</T>
      <T x={88} y={40} s={26} w="bold" c="#000">Rates in PC space</T>
      <T x={1103} y={39} s={26} w="bold" c="#000">Patterns overlaps</T>
      <T x={47} y={812} s={26} w="bold" c="#000">Neural Participation to patterns</T>
      <T x={220} y={87} s={22.2}>Trajectory of trial n.9</T>
      {eventNames.map((n, i) => (
        <T key={n} x={59.5} y={eventLegendY[i] / 2.01 + 8} s={22.3} c={eventText[i]}>{n}</T>
      ))}
      <path d="M260 515 L260 572 L317 572" fill="none" stroke="#000" strokeWidth={2} />
      <path d="M260 515 L254 531 L260 527 L266 531 Z M318 572 L302 566 L306 572 L302 578 Z" fill="#000" stroke="#000" strokeWidth={1} />
      <T x={238} y={526} s={24} a="middle" r={-90}>PC2</T>
      <T x={303} y={610} s={24}>PC1</T>

      <T x={737} y={523} s={21.2}>Patterns Distances</T>
      <T x={856} y={617} s={21.2} a="end">within</T>
      <T x={856} y={645} s={21.2} a="end">across</T>
      <rect x={864} y={598} width={26} height={26} fill="#6baad8" />
      <rect x={864} y={629} width={26} height={26} fill="#ff6f73" />
      <T x={693} y={590} s={52} w="bold" a="middle" c="#000">*</T>

      <rect x={1473.5} y={128} width={29} height={385} fill="none" stroke="#777" strokeWidth={1.5} />
      <path d="M1498 192h4M1498 256h4M1498 320h4M1498 384.5h4M1498 449h4" stroke="#444" strokeWidth={1} />
      <T x={1512} y={136} s={20}>1</T>
      <T x={1510} y={521} s={20}>-0.2</T>
      <T x={1522} y={335} a="middle" r={90}>Correlation Coeff.</T>
      <T x={1270} y={540} a="middle">Patterns</T>
      <T x={1006} y={323} a="middle" r={-90}>Patterns</T>
      <T x={1633} y={119}>Average</T>
      <T x={1633} y={147}>Overlap</T>
      <T x={1722} y={232} a="end">data</T>
      <T x={1740} y={263} a="end">shuffled</T>
      <rect x={1747} y={211} width={27} height={27} fill="#8fb0cb" />
      <rect x={1747} y={243} width={27} height={26} fill="#d0a2a5" />
      <T x={1669} y={367} s={52} w="bold" a="middle" c="#000">*</T>

      <rect x={1746} y={569.5} width={16.5} height={210.5} fill="none" stroke="#888" strokeWidth={1.5} />
      <T x={1766} y={578} s={22}>1</T>
      <T x={1761} y={795} s={20}>-0.2</T>
      <T x={1779} y={676} a="middle" r={90}>Correlation Coeff.</T>
      <T x={1642} y={805} s={23} a="middle">Mixed Patterns</T>
      <T x={1492} y={674} s={23} a="middle" r={-90}>Mixed Patterns</T>

      <T x={333} y={864} s={23} a="middle">Neuron 7</T>
      <T x={968} y={864} s={23} a="middle">Neuron 11</T>
      <T x={1534} y={864} s={22.8} a="middle">Multistability analysis</T>
      <T x={59} y={1070} s={24} a="middle" r={-90}>cdf</T>
      <T x={325} y={1335} a="middle">Firing rate (spk/sec)</T>
      <T x={956} y={1327} a="middle">Firing rate (spk/sec)</T>
      <T x={387} y={1101}>3 different</T>
      <T x={387} y={1129}>firing rates</T>
      <T x={1061} y={1097}>6 different</T>
      <T x={1061} y={1125}>firing rates</T>
      <T x={1288} y={1074} s={25} a="middle" f={HELV} r={-90}>Neurons  %</T>
      <T x={1516} y={1325} s={27} a="middle" f={HELV}># of firing rates</T>
    </svg>
  )
}

export default function App() {
  return (
    <div style={{ position: 'absolute', left: 0, top: 0, width: 1800, height: 1340, background: '#fff', overflow: 'hidden' }}>
      <PcScatter />
      <DistanceHist />

      <CellGrid l={1082} t={82} r={1458} b={115} cols={12} rows={1} cells={topStrip} stroke="#111" sw={3} />
      <CellGrid l={1040} t={129} r={1071} b={504} cols={1} rows={12} cells={leftStrip} stroke="#111" sw={3} />
      <CellGrid l={1087} t={129.3} r={1459} b={512.4} cols={12} rows={12} cells={matrixCells(overlaps)} />
      <CellGrid l={1473.5} t={128} r={1502.5} b={513} cols={1} rows={colorbarLevels.length} cells={colorbarCells} />
      <OverlapHist />

      <CellGrid l={1533} t={546} r={1738} b={562} cols={24} rows={2} cells={mixedTopCells} />
      <CellGrid l={1533} t={546} r={1738} b={562} cols={12} rows={1} cells={outlineRow} stroke="#333" sw={1.5} />
      <CellGrid l={1507} t={570} r={1525} b={775.5} cols={2} rows={24} cells={mixedLeftCells} />
      <CellGrid l={1507} t={570} r={1525} b={775.5} cols={1} rows={12} cells={outlineCol} stroke="#333" sw={1.5} />
      <CellGrid l={1533.3} t={569.3} r={1737} b={779.3} cols={12} rows={12} cells={matrixCells(mixedOverlaps)} />
      <CellGrid l={1746} t={569.5} r={1762.5} b={780} cols={1} rows={colorbarLevels.length} cells={colorbarCells} />

      <CdfPanel
        box={[92.5, 887.7, 605, 1280]}
        xMax={40}
        xTicks={[0, 10, 20, 30, 40]}
        series={neuron7}
        rates={neuron7Rates}
        cdf={0.48}
        xLabels={{ 0: ['0', 8, 33], 40: ['40', -3, 33] }}
        yLabels={{ 0: ['0', -21, 1], 1: ['1', -17, 6] }}
      />
      <CdfPanel
        box={[678.3, 890, 1191, 1280]}
        xMax={50}
        xTicks={[0, 8.33, 16.67, 25, 33.33, 41.67, 50]}
        series={neuron11}
        rates={neuron11Rates}
        cdf={0.491}
        xLabels={{ 0: ['0', 0, 30], 50: ['50', -6, 27] }}
        yLabels={{}}
      />
      <MultistabilityBars />
      <Annotations />
    </div>
  )
}
